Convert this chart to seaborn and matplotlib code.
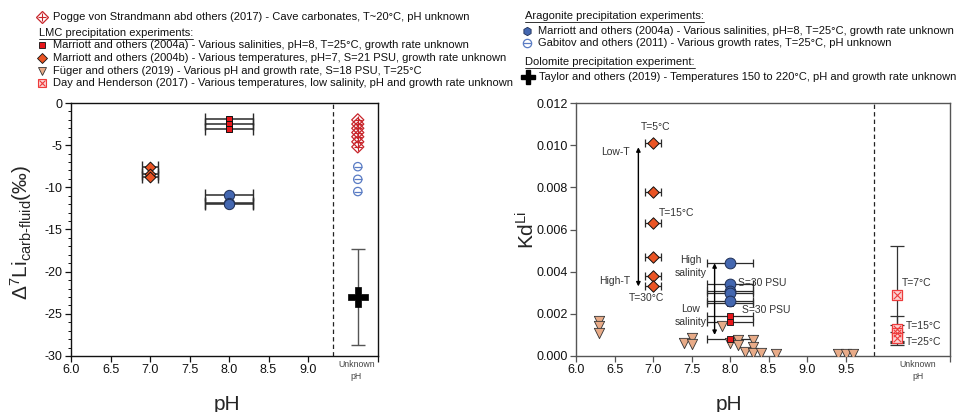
import matplotlib
matplotlib.use("Agg")
import matplotlib.pyplot as plt
import seaborn as sns
from matplotlib.ticker import MultipleLocator

sns.set_theme(style="ticks")
plt.rcParams["font.family"] = ["Liberation Sans", "DejaVu Sans"]
plt.rcParams["mathtext.fontset"] = "custom"
plt.rcParams["mathtext.rm"] = "Liberation Sans"
plt.rcParams["mathtext.it"] = "Liberation Sans:italic"
plt.rcParams["mathtext.bf"] = "Liberation Sans:bold"
plt.rcParams["axes.unicode_minus"] = False

# ---------------- data: Δ7Li carb-fluid vs pH ----------------
d7_lmc_a_ph = [8.0, 8.0, 8.0]
d7_lmc_a = [-1.9, -2.5, -3.1]
d7_lmc_b_ph = [7.0, 7.0, 7.0]
d7_lmc_b = [-7.6, -8.4, -8.8]
d7_arag_ph = [8.0, 8.0, 8.0]
d7_arag = [-10.9, -11.8, -12.0]
d7_unknown_x = 9.63
d7_pogge = [-2.0, -2.5, -3.0, -3.5, -4.0, -4.6, -5.2]
d7_gabitov = [-7.55, -9.05, -10.5]
d7_taylor = [-23.0]
d7_taylor_err = [5.7]

# ---------------- data: Kd(Li) vs pH ----------------
kd_lmc_b_ph = [7.0, 7.0, 7.0, 7.0, 7.0, 7.0]
kd_lmc_b = [0.0101, 0.0078, 0.0063, 0.0047, 0.0038, 0.0033]
kd_arag_ph = [8.0, 8.0, 8.0, 8.0, 8.0]
kd_arag = [0.0044, 0.0034, 0.0031, 0.0030, 0.0026]
kd_lmc_a_ph = [8.0, 8.0, 8.0, 8.0]
kd_lmc_a = [0.0025, 0.0019, 0.0016, 0.0008]
kd_fuger_ph = [6.3, 6.3, 6.3, 7.4, 7.5, 7.5, 7.9, 8.0, 8.1, 8.1, 8.2,
               8.3, 8.3, 8.3, 8.4, 8.6, 9.4, 9.5, 9.6]
kd_fuger = [0.00165, 0.0014, 0.0011, 0.0006, 0.00085, 0.00058, 0.0014,
            0.00063, 0.00074, 0.0005, 0.0002, 0.00074, 0.00043, 0.00016,
            0.00016, 0.00008, 0.00008, 0.00008, 0.00008]
kd_unknown_x = 10.44
kd_day_x = 10.165
kd_day = [0.0029, 0.0013, 0.00108, 0.00084]
kd_day_err = [0.0023, 0.0006, 0.0004, 0.0003]

ph_ticks = [6.0, 6.5, 7.0, 7.5, 8.0, 8.5, 9.0]
ph_ticks_kd = [6.0, 6.5, 7.0, 7.5, 8.0, 8.5, 9.0, 9.5]
d7_ticks = [0, -5, -10, -15, -20, -25, -30]
kd_ticks = [0.000, 0.002, 0.004, 0.006, 0.008, 0.010, 0.012]

# ---------------- colours ----------------
RED_SQ = "#e8161b"
ORANGE = "#ea5424"
BLUE = "#4467b0"
TAN = "#e8ab88"
DAY_RED = "#ee3b3b"
POGGE_RED = "#c8252b"
GAB_BLUE = "#5a7cc4"

W, H = 959, 412
fig = plt.figure(figsize=(W / 100, H / 100), dpi=100)


def px_axes(l, t, r, b):
    return fig.add_axes([l / W, 1 - b / H, (r - l) / W, (b - t) / H])


def pts(ax, x, y, **kw):
    sns.scatterplot(x=list(x), y=list(y), ax=ax, legend=False, **kw)


def style_axes(ax, spine_color):
    for s in ax.spines.values():
        s.set_color(spine_color)
        s.set_linewidth(1.0)
    ax.tick_params(which="major", direction="out", length=4, width=0.9,
                   color=spine_color, labelsize=9, pad=2, labelcolor="#111")
    ax.tick_params(which="minor", direction="out", length=2, width=0.7,
                   color=spine_color)


# ================= left panel =================
ax1 = px_axes(71, 103, 378, 356)
ax1.set_xlim(6.0, 9.886)
ax1.set_ylim(-30, 0)
style_axes(ax1, "#111")
ax1.set_xticks(ph_ticks + [9.886])
ax1.set_xticklabels([f"{v:.1f}" for v in ph_ticks] + [""])
ax1.set_yticks(d7_ticks)
ax1.set_yticklabels([f"{v:d}" for v in d7_ticks])
ax1.yaxis.set_minor_locator(MultipleLocator(1))
ax1.axvline(9.32, color="#222", lw=0.9, ls=(0, (3.5, 2.5)))

ebkw = dict(fmt="none", ecolor="#2a2a2a", elinewidth=1.1, capsize=4,
            capthick=1.0, zorder=2)
ax1.errorbar(d7_lmc_a_ph, d7_lmc_a, xerr=0.3, **ebkw)
ax1.errorbar(d7_arag_ph, d7_arag, xerr=0.3, **ebkw)
ax1.errorbar(d7_lmc_b_ph, d7_lmc_b, xerr=0.1, **ebkw)
pts(ax1, d7_lmc_a_ph, d7_lmc_a, marker="s", s=20, color=RED_SQ,
    edgecolor="#111", linewidth=0.7, zorder=5)
pts(ax1, d7_lmc_b_ph, d7_lmc_b, marker="D", s=30, color=ORANGE,
    edgecolor="#111", linewidth=0.7, zorder=5)
pts(ax1, d7_arag_ph, d7_arag, marker="o", s=55, color=BLUE,
    edgecolor="#1f2f55", linewidth=0.7, zorder=5)

# samples of unknown pH
ux = [d7_unknown_x] * len(d7_pogge)
pts(ax1, ux, d7_pogge, marker="D", s=38, facecolor="none",
    edgecolor=POGGE_RED, linewidth=0.9, zorder=5)
pts(ax1, ux, d7_pogge, marker="+", s=38, color=POGGE_RED,
    linewidth=0.8, zorder=5)
gx = [d7_unknown_x] * len(d7_gabitov)
pts(ax1, gx, d7_gabitov, marker="o", s=36, facecolor="none",
    edgecolor=GAB_BLUE, linewidth=0.9, zorder=5)
pts(ax1, gx, d7_gabitov, marker="_", s=36, color=GAB_BLUE,
    linewidth=0.9, zorder=5)
ax1.errorbar([d7_unknown_x], d7_taylor, yerr=d7_taylor_err, fmt="none",
             ecolor="#555", elinewidth=1.0, capsize=5, capthick=1.0, zorder=2)
pts(ax1, [d7_unknown_x], d7_taylor, marker="P", s=190, color="black",
    edgecolor="black", linewidth=0.5, zorder=5)

ax1.text(d7_unknown_x - 0.02, -0.015, "Unknown\npH",
         transform=ax1.get_xaxis_transform(), ha="center", va="top",
         fontsize=6.3, color="#444", linespacing=1.45)
ax1.set_xlabel("")
ax1.set_ylabel("")

# ================= right panel =================
ax2 = px_axes(576, 103, 950, 356)
ax2.set_xlim(6.0, 10.857)
ax2.set_ylim(0.0, 0.012)
style_axes(ax2, "#555")
ax2.set_xticks(ph_ticks_kd + [10.857])
ax2.set_xticklabels([f"{v:.1f}" for v in ph_ticks_kd] + [""])
ax2.set_yticks(kd_ticks)
ax2.set_yticklabels([f"{v:.3f}" for v in kd_ticks])
ax2.axvline(9.87, color="#222", lw=0.9, ls=(0, (3.5, 2.5)))

ebkw2 = dict(fmt="none", ecolor="#2a2a2a", elinewidth=0.9, capsize=3,
             capthick=0.9, zorder=2)
ax2.errorbar(kd_lmc_b_ph, kd_lmc_b, xerr=0.1, **ebkw2)
ax2.errorbar(kd_arag_ph, kd_arag, xerr=0.3, **ebkw2)
ax2.errorbar(kd_lmc_a_ph, kd_lmc_a, xerr=0.3, **ebkw2)
pts(ax2, kd_fuger_ph, kd_fuger, marker="v", s=55, color=TAN,
    edgecolor="#333", linewidth=0.6, zorder=4)
pts(ax2, kd_lmc_a_ph, kd_lmc_a, marker="s", s=24, color=RED_SQ,
    edgecolor="#111", linewidth=0.6, zorder=5)
pts(ax2, kd_arag_ph, kd_arag, marker="o", s=60, color=BLUE,
    edgecolor="#1f2f55", linewidth=0.7, zorder=6)
pts(ax2, kd_lmc_b_ph, kd_lmc_b, marker="D", s=34, color=ORANGE,
    edgecolor="#111", linewidth=0.7, zorder=5)

dx = [kd_day_x] * len(kd_day)
ax2.errorbar(dx, kd_day, yerr=kd_day_err, fmt="none", ecolor="#333",
             elinewidth=0.9, capsize=5, capthick=0.9, zorder=2)
pts(ax2, dx, kd_day, marker="s", s=50, color="#fbd3d3",
    edgecolor=DAY_RED, linewidth=0.9, zorder=5)
pts(ax2, dx, kd_day, marker="x", s=28, color=DAY_RED, linewidth=0.8, zorder=6)

ax2.text(kd_unknown_x, -0.015, "Unknown\npH", transform=ax2.get_xaxis_transform(),
         ha="center", va="top", fontsize=6.3, color="#444", linespacing=1.45)

# annotations
akw = dict(fontsize=7.5, color="#333")
ax2.text(7.03, 0.01085, "T=5°C", ha="center", va="center", **akw)
ax2.text(6.70, 0.00966, "Low-T", ha="right", va="center", **akw)
ax2.text(7.31, 0.0068, "T=15°C", ha="center", va="center", **akw)
ax2.text(6.70, 0.00357, "High-T", ha="right", va="center", **akw)
ax2.text(6.91, 0.00274, "T=30°C", ha="center", va="center", **akw)
ax2.text(7.49, 0.00424, "High\nsalinity", ha="center", va="center",
         linespacing=1.3, **akw)
ax2.text(7.49, 0.00192, "Low\nsalinity", ha="center", va="center",
         linespacing=1.3, **akw)
ax2.text(8.11, 0.00348, "S=30 PSU", ha="left", va="center", **akw)
ax2.text(8.16, 0.00217, "S=30 PSU", ha="left", va="center", **akw)
ax2.text(10.23, 0.00348, "T=7°C", ha="left", va="center", **akw)
ax2.text(10.28, 0.00142, "T=15°C", ha="left", va="center", **akw)
ax2.text(10.28, 0.00068, "T=25°C", ha="left", va="center", **akw)
arrow = dict(arrowstyle="<|-|>", color="black", lw=1.0,
             mutation_scale=6, shrinkA=0, shrinkB=0)
ax2.annotate("", xy=(6.81, 0.0033), xytext=(6.81, 0.0099), arrowprops=arrow)
ax2.annotate("", xy=(7.8, 0.0010), xytext=(7.8, 0.0044), arrowprops=arrow)
ax2.set_xlabel("")
ax2.set_ylabel("")

# ================= axis titles =================
fig.text(227 / W, 1 - 410 / H, "pH", ha="center", va="baseline", fontsize=15)
fig.text(729 / W, 1 - 410 / H, "pH", ha="center", va="baseline", fontsize=15)
fig.text(21 / W, 1 - 232 / H,
         r"Δ$^{7}$Li$_{\mathregular{carb\text{-}fluid}}$(‰)",
         rotation=90, ha="center", va="center", fontsize=15)
fig.text(527 / W, 1 - 230 / H, r"Kd$^{\mathregular{Li}}$",
         rotation=90, ha="center", va="center", fontsize=15)

# ================= key above the panels =================
lg = fig.add_axes([0, 0, 1, 1])
lg.set_xlim(0, W)
lg.set_ylim(H, 0)
lg.axis("off")
lg.text(228, 3, "carb-fluid", ha="center", va="bottom", fontsize=9,
        fontweight="bold")

FS = 8.0
renderer = fig.canvas.get_renderer()


def heading(x, y, s):
    t = lg.text(x, y, s, ha="left", va="center", fontsize=FS, color="#111")
    bb = t.get_window_extent(renderer)
    lg.plot([x, x + bb.width], [y + 6, y + 6], color="#111", lw=0.6)


def entry(x, y, s):
    lg.text(x, y, s, ha="left", va="center", fontsize=FS, color="#111")


mx, tx = 41.7, 52.7
lg.plot(mx, 17.3, marker="D", ms=6, mfc="none", mec=POGGE_RED, mew=0.9)
lg.plot(mx, 17.3, marker="+", ms=6, color=POGGE_RED, mew=0.8)
entry(tx, 17.3, "Pogge von Strandmann abd others (2017) - Cave carbonates, T~20°C, pH unknown")
heading(38.7, 32.7, "LMC precipitation experiments:")
lg.plot(mx, 45, marker="s", ms=4.5, color=RED_SQ, mec="#111", mew=0.6)
entry(tx, 45, "Marriott and others (2004a) - Various salinities, pH=8, T=25°C, growth rate unknown")
lg.plot(mx, 57.7, marker="D", ms=5, color=ORANGE, mec="#111", mew=0.6)
entry(tx, 57.7, "Marriott and others (2004b) - Various temperatures, pH=7, S=21 PSU, growth rate unknown")
lg.plot(mx, 70.7, marker="v", ms=6, color=TAN, mec="#333", mew=0.6)
entry(tx, 70.7, "Füger and others (2019) - Various pH and growth rate, S=18 PSU, T=25°C")
lg.plot(mx, 83.3, marker="s", ms=6, color="#fbd3d3", mec=DAY_RED, mew=0.8)
lg.plot(mx, 83.3, marker="x", ms=4.5, color=DAY_RED, mew=0.8)
entry(tx, 83.3, "Day and Henderson (2017) - Various temperatures, low salinity, pH and growth rate unknown")

rx, rtx = 526.7, 537.7
heading(525, 16, "Aragonite precipitation experiments:")
lg.plot(rx, 30.7, marker="h", ms=6, color=BLUE, mec="#1f2f55", mew=0.6)
entry(rtx, 30.7, "Marriott and others (2004a) - Various salinities, pH=8, T=25°C, growth rate unknown")
lg.plot(rx, 43.3, marker="o", ms=6, mfc="none", mec=GAB_BLUE, mew=0.9)
lg.plot(rx, 43.3, marker="_", ms=6, color=GAB_BLUE, mew=0.9)
entry(rtx, 43.3, "Gabitov and others (2011) - Various growth rates, T=25°C, pH unknown")
heading(525, 61.7, "Dolomite precipitation experiment:")
lg.plot(rx + 1, 77.3, marker="P", ms=10, color="black", mec="black")
entry(rtx + 1, 77.3, "Taylor and others (2019) - Temperatures 150 to 220°C, pH and growth rate unknown")

fig.savefig("out.png", dpi=100)
